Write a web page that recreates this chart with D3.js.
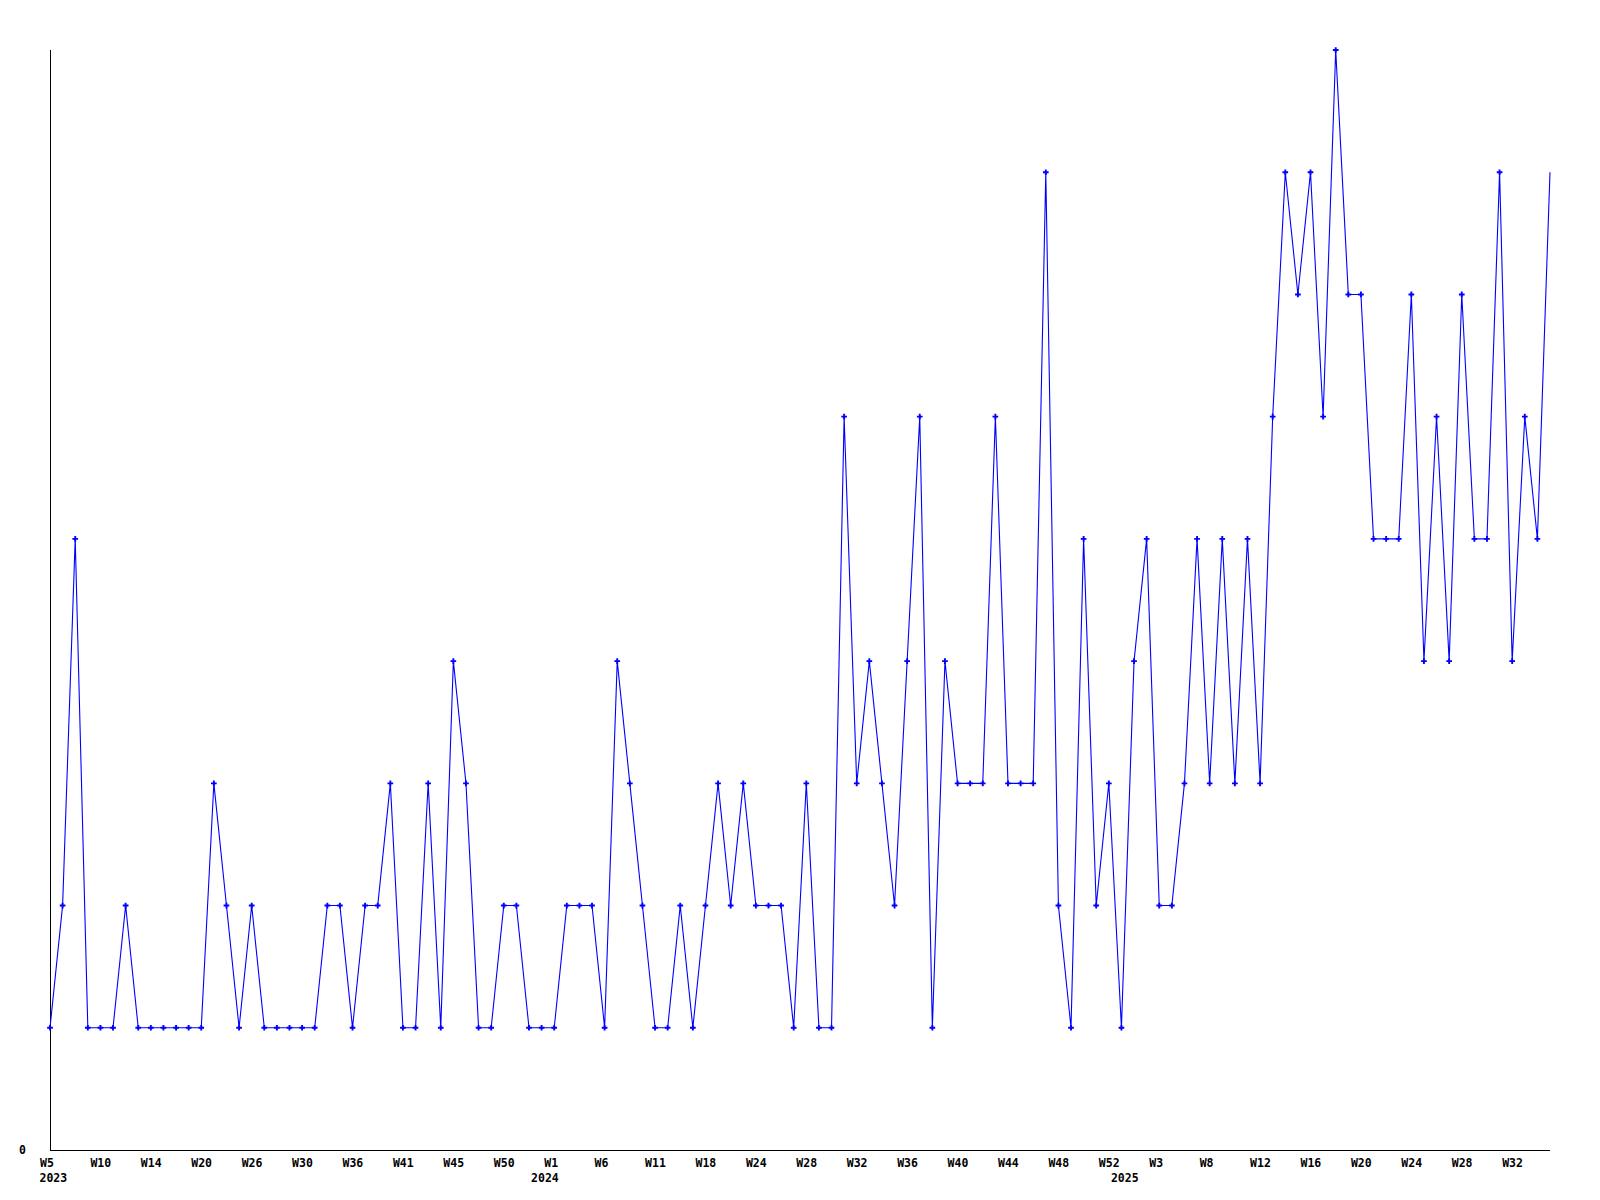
<!DOCTYPE html>
<html>
<head>
<meta charset="utf-8">
<script src="https://cdn.jsdelivr.net/npm/d3@7"></script>
<style>
  html, body { margin: 0; padding: 0; background: #fff; }
  svg { display: block; }
  .lbl { font-family: "DejaVu Sans Mono", "Liberation Mono", monospace; font-weight: bold; font-size: 11.5px; fill: #000; }
</style>
</head>
<body>
<svg id="chart" width="1600" height="1200"></svg>
<script>
// One value per weekly category (120 categories, W5 2023 .. W35 2025)
const values = [
  1, 2, 5, 1, 1, 1, 2, 1, 1, 1,
  1, 1, 1, 3, 2, 1, 2, 1, 1, 1,
  1, 1, 2, 2, 1, 2, 2, 3, 1, 1,
  3, 1, 4, 3, 1, 1, 2, 2, 1, 1,
  1, 2, 2, 2, 1, 4, 3, 2, 1, 1,
  2, 1, 2, 3, 2, 3, 2, 2, 2, 1,
  3, 1, 1, 6, 3, 4, 3, 2, 4, 6,
  1, 4, 3, 3, 3, 6, 3, 3, 3, 8,
  2, 1, 5, 2, 3, 1, 4, 5, 2, 2,
  3, 5, 3, 5, 3, 5, 3, 6, 8, 7,
  8, 6, 9, 7, 7, 5, 5, 5, 7, 4,
  6, 4, 7, 5, 5, 8, 4, 6, 5, 8
];
// Tick labels, one every 4th category
const tickLabels = [
  "W5", "W10", "W14", "W20", "W26", "W30", "W36", "W41", "W45", "W50",
  "W1", "W6", "W11", "W18", "W24", "W28", "W32", "W36", "W40", "W44",
  "W48", "W52", "W3", "W8", "W12", "W16", "W20", "W24", "W28", "W32"
];
const tickEvery = 4;
// Year labels and the category at which each year starts
const yearLabels = ["2023", "2024", "2025"];
const yearStart = [0, 39, 85];
const yMax = 9;

const svg = d3.select("#chart");
const mLeft = 50, mRight = 1550, mTop = 50, mBottom = 1150;

const categories = d3.range(values.length);
const x = d3.scalePoint().domain(categories).range([mLeft, mRight]);
const y = d3.scaleLinear().domain([0, yMax]).range([mBottom, mTop]);

// Axis lines
svg.append("line")
  .attr("x1", mLeft + 0.5).attr("x2", mLeft + 0.5).attr("y1", mTop).attr("y2", mBottom)
  .attr("stroke", "#000").attr("stroke-width", 1).attr("shape-rendering", "crispEdges");
svg.append("line")
  .attr("x1", mLeft).attr("x2", mRight).attr("y1", mBottom + 0.5).attr("y2", mBottom + 0.5)
  .attr("stroke", "#000").attr("stroke-width", 1).attr("shape-rendering", "crispEdges");

// Bottom axis tick labels
const xAxis = d3.axisBottom(x)
  .tickValues(categories.filter(i => i % tickEvery === 0))
  .tickFormat(i => tickLabels[i / tickEvery])
  .tickSize(0).tickPadding(0);
const gx = svg.append("g").attr("transform", `translate(0,${mBottom})`).call(xAxis);
gx.select(".domain").remove();
gx.attr("font-family", null).attr("font-size", null);
gx.selectAll("text")
  .attr("class", "lbl")
  .attr("text-anchor", "start")
  .attr("x", -10.5)
  .attr("y", 17)
  .attr("dy", null);

// Year labels
svg.append("g").selectAll("text")
  .data(yearLabels)
  .join("text")
  .attr("class", "lbl")
  .attr("x", (d, i) => x(yearStart[i]) - 10.5)
  .attr("y", mBottom + 32)
  .text(d => d);

// Left axis: only the 0 label
const yAxis = d3.axisLeft(y).tickValues([0]).tickFormat(d3.format("d")).tickSize(0).tickPadding(24);
const gy = svg.append("g").attr("transform", `translate(${mLeft},0)`).call(yAxis);
gy.select(".domain").remove();
gy.attr("font-family", null).attr("font-size", null);
gy.selectAll("text").attr("class", "lbl");

// Line
const line = d3.line().x((d, i) => x(i)).y(d => y(d));
svg.append("path")
  .datum(values)
  .attr("d", line)
  .attr("fill", "none")
  .attr("stroke", "#0000ff")
  .attr("stroke-width", 1.1);

// Markers (last one falls on the plot edge and is not drawn)
svg.append("g").selectAll("path")
  .data(values.slice(0, -1))
  .join("path")
  .attr("transform", (d, i) => `translate(${x(i)},${y(d)})`)
  .attr("d", d3.symbol(d3.symbolCross, 18)())
  .attr("fill", "#0000ff");
</script>
</body>
</html>
